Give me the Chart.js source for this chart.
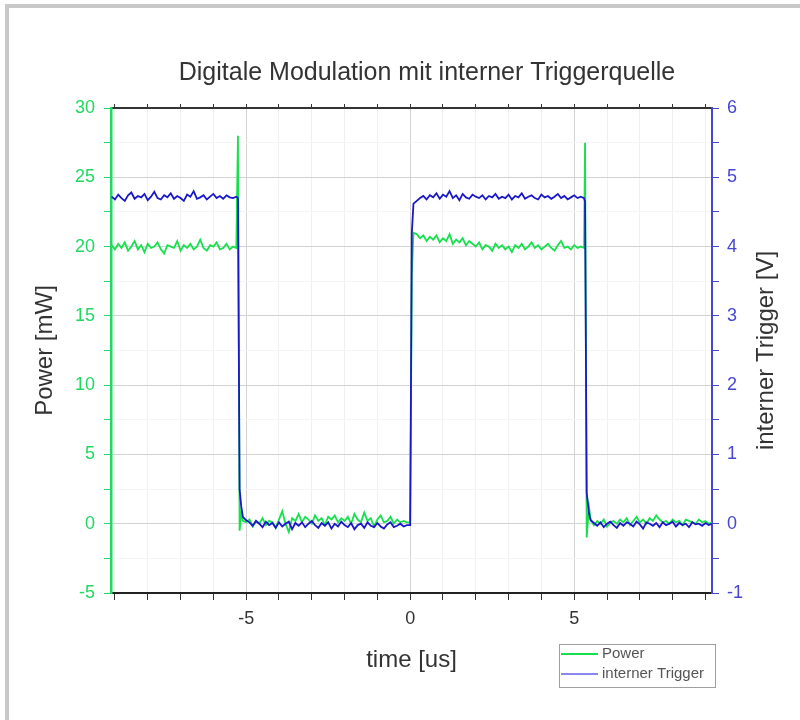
<!DOCTYPE html>
<html>
<head>
<meta charset="utf-8">
<title>Digitale Modulation mit interner Triggerquelle</title>
<script src="https://cdn.jsdelivr.net/npm/chart.js@4.4.1/dist/chart.umd.min.js"></script>
<style>
  html, body { margin: 0; padding: 0; background: #fff; }
  #wrap { width: 800px; height: 720px; }
</style>
</head>
<body>
<div id="wrap"><canvas id="scope" width="800" height="720"></canvas></div>
<script>
// sample times in microseconds (one row per segment of the trace)
const timeUs = [
  -9.1,-9,-8.9,-8.8,-8.7,-8.6,-8.5,-8.4,-8.3,-8.2,-8.1,-8,-7.9,-7.8,-7.7,-7.6,-7.5,-7.4,-7.3,-7.2,
  -7.1,-7,-6.9,-6.8,-6.7,-6.6,-6.5,-6.4,-6.3,-6.2,-6.1,-6,-5.9,-5.8,-5.7,-5.6,-5.5,-5.4,-5.3,
  -5.25,-5.2,-5.15,-5.1,
  -5,-4.9,-4.8,-4.7,-4.6,-4.5,-4.4,-4.3,-4.2,-4.1,-4,-3.9,-3.8,-3.7,-3.6,-3.5,-3.4,-3.3,-3.2,-3.1,
  -3,-2.9,-2.8,-2.7,-2.6,-2.5,-2.4,-2.3,-2.2,-2.1,-2,-1.9,-1.8,-1.7,-1.6,-1.5,-1.4,-1.3,-1.2,-1.1,
  -1,-0.9,-0.8,-0.7,-0.6,-0.5,-0.4,-0.3,-0.2,-0.1,
  0,0.05,0.1,
  0.2,0.3,0.4,0.5,0.6,0.7,0.8,0.9,1,1.1,1.2,1.3,1.4,1.5,1.6,1.7,1.8,1.9,2,2.1,
  2.2,2.3,2.4,2.5,2.6,2.7,2.8,2.9,3,3.1,3.2,3.3,3.4,3.5,3.6,3.7,3.8,3.9,4,4.1,
  4.2,4.3,4.4,4.5,4.6,4.7,4.8,4.9,5,5.1,5.2,5.3,
  5.33,5.38,5.45,
  5.5,5.6,5.7,5.8,5.9,6,6.1,6.2,6.3,6.4,6.5,6.6,6.7,6.8,6.9,7,7.1,7.2,7.3,7.4,
  7.5,7.6,7.7,7.8,7.9,8,8.1,8.2,8.3,8.4,8.5,8.6,8.7,8.8,8.9,9,9.1,9.2
];

// optical power [mW]
const powerMw = [
  20.1,19.8,20.2,19.9,20.3,19.7,20.0,20.4,19.8,20.1,19.6,20.2,19.9,20.0,20.3,19.8,19.5,20.1,20.0,19.9,
  20.4,19.7,20.1,19.9,20.2,19.8,20.0,20.5,19.9,19.7,20.1,20.0,20.3,19.8,19.9,20.2,19.8,20.0,19.9,
  28.0,-0.5,0.8,0.2,
  0.1,0.3,-0.2,0.2,0.0,0.4,-0.1,0.2,0.1,-0.3,0.3,0.9,0.0,-0.6,0.4,0.2,0.7,0.1,0.5,0.3,
  0.0,0.6,0.2,0.4,-0.1,0.5,0.3,0.6,0.1,0.4,0.2,0.5,0.0,0.7,0.3,0.1,0.8,0.2,0.4,-0.2,
  0.3,0.6,0.1,0.2,0.5,0.0,0.3,0.1,0.2,0.1,
  0.1,18.0,21.0,
  20.9,20.6,20.8,20.4,20.7,20.5,20.8,20.3,20.6,20.4,20.9,20.2,20.5,20.3,20.6,20.1,20.4,20.2,20.0,20.3,
  19.8,20.1,20.0,19.7,20.2,19.9,20.1,19.8,20.0,19.6,20.1,19.9,20.2,19.8,20.0,20.3,19.9,20.1,19.8,20.0,
  20.2,19.9,19.7,20.1,20.4,19.9,20.0,19.8,20.1,19.9,20.0,19.9,
  27.5,-1.0,1.2,
  0.3,-0.1,0.2,0.0,0.3,-0.2,0.1,0.2,0.0,0.3,0.1,0.4,-0.1,0.2,0.5,0.1,0.3,0.0,0.4,0.2,
  0.6,0.3,0.1,0.2,0.0,0.3,0.1,0.2,-0.1,0.3,0.2,0.1,0.0,0.3,0.1,0.2,0.0,0.1
];

// internal trigger [V]
const triggerV = [
  4.72,4.68,4.75,4.70,4.66,4.74,4.78,4.69,4.73,4.71,4.76,4.67,4.72,4.79,4.70,4.68,4.74,4.71,4.77,4.69,
  4.73,4.70,4.66,4.75,4.72,4.80,4.69,4.71,4.74,4.68,4.72,4.76,4.70,4.73,4.69,4.74,4.71,4.70,4.72,
  4.70,0.50,0.25,0.10,
  0.05,0.02,-0.03,0.04,0.00,-0.05,0.03,-0.02,0.01,-0.06,0.02,-0.04,0.00,0.03,-0.08,0.01,-0.03,0.02,-0.05,0.00,
  0.04,-0.02,-0.06,0.01,-0.03,0.02,-0.07,0.00,-0.04,0.03,-0.02,-0.05,0.01,-0.08,-0.02,0.00,-0.06,0.02,-0.03,-0.05,
  0.01,-0.04,-0.07,-0.01,0.02,-0.05,-0.03,0.00,-0.04,-0.02,
  -0.02,4.20,4.62,
  4.66,4.70,4.73,4.68,4.74,4.71,4.77,4.69,4.75,4.72,4.80,4.70,4.74,4.67,4.76,4.71,4.69,4.75,4.72,4.70,
  4.74,4.68,4.73,4.71,4.76,4.69,4.72,4.70,4.75,4.68,4.73,4.71,4.77,4.69,4.72,4.74,4.70,4.68,4.75,4.71,
  4.73,4.69,4.72,4.76,4.70,4.73,4.68,4.71,4.74,4.70,4.72,4.70,
  4.65,0.45,0.15,
  0.05,0.01,-0.03,0.02,-0.05,0.00,0.03,-0.02,-0.06,0.01,-0.03,0.02,0.00,-0.04,0.03,-0.01,-0.07,0.02,0.00,-0.03,
  0.01,-0.05,0.02,-0.02,0.00,0.03,-0.04,0.01,-0.02,0.00,-0.05,0.02,-0.01,0.00,-0.03,0.01,-0.02,0.00
];

const xTickLabels = [-5, 0, 5];
const powerTickLabels = [-5, 0, 5, 10, 15, 20, 25, 30];
const triggerTickLabels = [-1, 0, 1, 2, 3, 4, 5, 6];

const GREEN = "#16e04c";
const GREEN_AXIS = "#22d862";
const BLUE = "#1818c8";
const BLUE_AXIS = "#4646d2";
const FONT = "'Liberation Sans', Arial, sans-serif";

function hasLabel(list, v) {
  return list.some(l => Math.abs(l - v) < 1e-6);
}

const framePlugin = {
  id: "frame",
  beforeDraw(chart) {
    const ctx = chart.ctx;
    ctx.save();
    ctx.fillStyle = "#fff";
    ctx.fillRect(0, 0, chart.width, chart.height);
    ctx.fillStyle = "#c9c9c9";
    ctx.fillRect(5, 4, chart.width - 5, 4);
    ctx.fillRect(5, 4, 4, chart.height - 4);
    ctx.restore();
  }
};

// chart heading and the right axis title (which reads bottom-to-top like the left one)
const textPlugin = {
  id: "extraText",
  afterDraw(chart) {
    const ctx = chart.ctx;
    const area = chart.chartArea;
    ctx.save();
    ctx.fillStyle = "#333";
    ctx.textAlign = "center";
    ctx.textBaseline = "middle";
    ctx.font = "25px " + FONT;
    ctx.fillText("Digitale Modulation mit interner Triggerquelle", 427, 73);
    ctx.translate(766, (area.top + area.bottom) / 2);
    ctx.rotate(-Math.PI / 2);
    ctx.font = "24px " + FONT;
    ctx.fillText("interner Trigger [V]", 0, 0);
    ctx.restore();
  }
};

const legendBoxPlugin = {
  id: "legendBox",
  afterDraw(chart) {
    const ctx = chart.ctx;
    const left = 559, top = 644, w = 156, h = 43;
    ctx.save();
    ctx.fillStyle = "#fff";
    ctx.fillRect(left, top, w, h);
    ctx.strokeStyle = "#a0a0a0";
    ctx.lineWidth = 1;
    ctx.strokeRect(left + 0.5, top + 0.5, w, h);
    ctx.font = "15px " + FONT;
    ctx.textBaseline = "middle";
    chart.data.datasets.forEach((ds, i) => {
      const y = top + 10 + i * 20;
      ctx.strokeStyle = ds.legendColor || ds.borderColor;
      ctx.lineWidth = 2;
      ctx.beginPath();
      ctx.moveTo(left + 2, y);
      ctx.lineTo(left + 39, y);
      ctx.stroke();
      ctx.fillStyle = "#555";
      ctx.fillText(ds.label, left + 43, y);
    });
    ctx.restore();
  }
};

new Chart(document.getElementById("scope").getContext("2d"), {
  type: "line",
  data: {
    datasets: [
      {
        label: "Power",
        data: timeUs.map((t, i) => ({ x: t, y: powerMw[i] })),
        borderColor: GREEN,
        borderWidth: 1.8,
        pointRadius: 0,
        tension: 0,
        yAxisID: "y",
        order: 1
      },
      {
        label: "interner Trigger",
        data: timeUs.map((t, i) => ({ x: t, y: triggerV[i] })),
        borderColor: BLUE,
        legendColor: "#8888f0",
        borderWidth: 1.8,
        pointRadius: 0,
        tension: 0,
        yAxisID: "y2",
        order: 0
      }
    ]
  },
  options: {
    responsive: false,
    animation: false,
    layout: { padding: { top: 108, left: 0, right: 0, bottom: 0 } },
    plugins: {
      legend: { display: false },
      tooltip: { enabled: false }
    },
    scales: {
      x: {
        type: "linear",
        position: "bottom",
        min: -9.12,
        max: 9.2,
        afterFit(s) { s.height = 127; },
        border: { color: "#222", width: 2 },
        grid: {
          color: c => hasLabel(xTickLabels, c.tick.value) ? "#d2d2d2" : "#f0f0f0",
          tickColor: "#333",
          tickLength: 7
        },
        ticks: {
          stepSize: 1,
          includeBounds: false,
          autoSkip: false,
          maxRotation: 0,
          padding: 8,
          color: "#333",
          font: { family: FONT, size: 18 },
          callback: v => hasLabel(xTickLabels, v) ? String(v) : ""
        },
        title: {
          display: true,
          text: "time [us]",
          color: "#333",
          font: { family: FONT, size: 24 },
          padding: { top: 0, bottom: 45.6 }
        }
      },
      xTop: {
        type: "linear",
        position: "top",
        min: -9.12,
        max: 9.2,
        afterFit(s) { s.height = 0; },
        border: { color: "#333", width: 2 },
        grid: { drawOnChartArea: false, tickColor: "#333", tickLength: 4 },
        ticks: { display: false, stepSize: 1, includeBounds: false }
      },
      y: {
        type: "linear",
        position: "left",
        min: -5,
        max: 30,
        afterFit(s) { s.width = 111; },
        border: { color: GREEN_AXIS, width: 2.5 },
        grid: {
          color: c => hasLabel(powerTickLabels, c.tick.value) ? "#d2d2d2" : "#f5f5f5",
          tickColor: GREEN_AXIS,
          tickLength: 7
        },
        ticks: {
          stepSize: 2.5,
          includeBounds: false,
          autoSkip: false,
          padding: 9,
          color: GREEN_AXIS,
          font: { family: FONT, size: 18 },
          callback: v => hasLabel(powerTickLabels, v) ? String(v) : ""
        },
        title: {
          display: true,
          text: "Power [mW]",
          color: "#333",
          font: { family: FONT, size: 24 },
          padding: { top: 30.6, bottom: 0 }
        }
      },
      y2: {
        type: "linear",
        position: "right",
        min: -1,
        max: 6,
        afterFit(s) { s.width = 88; },
        border: { color: BLUE_AXIS, width: 2 },
        grid: { drawOnChartArea: false, tickColor: BLUE_AXIS, tickLength: 7 },
        ticks: {
          stepSize: 0.5,
          includeBounds: false,
          autoSkip: false,
          padding: 8,
          color: BLUE_AXIS,
          font: { family: FONT, size: 18 },
          callback: v => hasLabel(triggerTickLabels, v) ? String(v) : ""
        },
        title: { display: false }
      }
    }
  },
  plugins: [framePlugin, textPlugin, legendBoxPlugin]
});
</script>
</body>
</html>
